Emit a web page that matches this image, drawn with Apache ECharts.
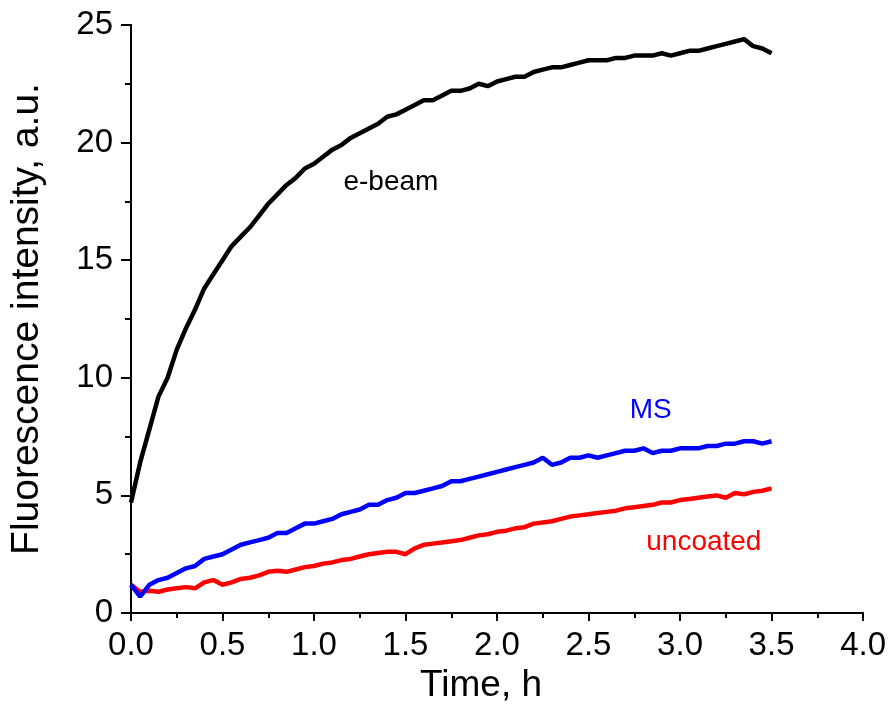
<!DOCTYPE html>
<html>
<head>
<meta charset="utf-8">
<script src="https://cdn.jsdelivr.net/npm/echarts@6/dist/echarts.min.js"></script>
<style>
  html, body { margin: 0; padding: 0; background: #fff; }
  #chart { width: 889px; height: 715px; }
</style>
</head>
<body>
<div id="chart"></div>
<script>
// time step of the sampled readings (h)
var step = 0.05;

// values, every 0.05 h from 0 to 3.5 h
var eBeam = [4.7, 6.4, 7.8, 9.2, 10.0, 11.2, 12.1, 12.9, 13.8, 14.4,
  15.0, 15.6, 16.0, 16.4, 16.9, 17.4, 17.8, 18.2, 18.5, 18.9,
  19.1, 19.4, 19.7, 19.9, 20.2, 20.4, 20.6, 20.8, 21.1, 21.2,
  21.4, 21.6, 21.8, 21.8, 22.0, 22.2, 22.2, 22.3, 22.5, 22.4,
  22.6, 22.7, 22.8, 22.8, 23.0, 23.1, 23.2, 23.2, 23.3, 23.4,
  23.5, 23.5, 23.5, 23.6, 23.6, 23.7, 23.7, 23.7, 23.8, 23.7,
  23.8, 23.9, 23.9, 24.0, 24.1, 24.2, 24.3, 24.4, 24.1, 24.0, 23.8];
var ms = [1.2, 0.7, 1.2, 1.4, 1.5, 1.7, 1.9, 2.0, 2.3, 2.4,
  2.5, 2.7, 2.9, 3.0, 3.1, 3.2, 3.4, 3.4, 3.6, 3.8,
  3.8, 3.9, 4.0, 4.2, 4.3, 4.4, 4.6, 4.6, 4.8, 4.9,
  5.1, 5.1, 5.2, 5.3, 5.4, 5.6, 5.6, 5.7, 5.8, 5.9,
  6.0, 6.1, 6.2, 6.3, 6.4, 6.6, 6.3, 6.4, 6.6, 6.6,
  6.7, 6.6, 6.7, 6.8, 6.9, 6.9, 7.0, 6.8, 6.9, 6.9,
  7.0, 7.0, 7.0, 7.1, 7.1, 7.2, 7.2, 7.3, 7.3, 7.2, 7.3];
var uncoated = [1.2, 0.9, 0.95, 0.9, 1.0, 1.05, 1.1, 1.05, 1.3, 1.4,
  1.2, 1.3, 1.45, 1.5, 1.6, 1.75, 1.8, 1.75, 1.85, 1.95,
  2.0, 2.1, 2.15, 2.25, 2.3, 2.4, 2.5, 2.55, 2.6, 2.6,
  2.5, 2.75, 2.9, 2.95, 3.0, 3.05, 3.1, 3.2, 3.3, 3.35,
  3.45, 3.5, 3.6, 3.65, 3.8, 3.85, 3.9, 4.0, 4.1, 4.15,
  4.2, 4.25, 4.3, 4.35, 4.45, 4.5, 4.55, 4.6, 4.7, 4.7,
  4.8, 4.85, 4.9, 4.95, 5.0, 4.9, 5.1, 5.05, 5.15, 5.2, 5.3];

// curve labels: [time, intensity]
var labelEBeam = [1.42, 18.3];
var labelMs = [2.84, 8.6];
var labelUncoated = [3.13, 3.0];

function pairs(vals) {
  return vals.map(function (v, i) { return [+(i * step).toFixed(2), v]; });
}

var myChart = echarts.init(document.getElementById('chart'));

var font = 'Liberation Sans, Arial, sans-serif';

function curve(name, vals, color, lab) {
  return {
    name: name,
    type: 'line',
    data: pairs(vals),
    showSymbol: false,
    symbol: 'none',
    lineStyle: { color: color, width: 4.5 },
    animation: false,
    markPoint: {
      symbol: 'circle',
      symbolSize: 0,
      label: {
        show: true,
        position: 'inside',
        formatter: name,
        color: color,
        fontSize: 28,
        fontFamily: font
      },
      data: [{ coord: lab }]
    }
  };
}

var option = {
  backgroundColor: '#fff',
  animation: false,
  grid: { left: 131, right: 25, top: 25, bottom: 102 },
  xAxis: [{
    type: 'value',
    min: 0, max: 4, interval: 0.5,
    name: 'Time, h',
    nameLocation: 'middle',
    nameGap: 47,
    nameTextStyle: { fontSize: 37, color: '#000', fontFamily: font, padding: [0, 32, 0, 0] },
    axisLine: { lineStyle: { color: '#000', width: 2 } },
    axisTick: { inside: false, length: 8, lineStyle: { color: '#000', width: 2 } },
    minorTick: { show: true, splitNumber: 2, length: 5, lineStyle: { color: '#000', width: 2 } },
    splitLine: { show: false },
    axisLabel: {
      fontSize: 33, color: '#000', fontFamily: font, margin: 16,
      formatter: function (v) { return v.toFixed(1); }
    }
  }, {
    type: 'value', position: 'top',
    min: 0, max: 4, interval: 0.5,
    axisLine: { lineStyle: { color: '#000', width: 2 } },
    axisTick: { show: false },
    axisLabel: { show: false },
    splitLine: { show: false }
  }],
  yAxis: [{
    type: 'value',
    min: 0, max: 25, interval: 5,
    name: 'Fluorescence intensity, a.u.',
    nameLocation: 'middle',
    nameGap: 84,
    nameTextStyle: { fontSize: 39, color: '#000', fontFamily: font },
    axisLine: { show: true, lineStyle: { color: '#000', width: 2 } },
    axisTick: { show: true, inside: false, length: 9, lineStyle: { color: '#000', width: 2 } },
    minorTick: { show: true, splitNumber: 2, length: 6, lineStyle: { color: '#000', width: 2 } },
    splitLine: { show: false },
    axisLabel: { fontSize: 33, color: '#000', fontFamily: font, margin: 18 }
  }, {
    type: 'value', position: 'right',
    min: 0, max: 25, interval: 5,
    axisLine: { show: true, lineStyle: { color: '#000', width: 2 } },
    axisTick: { show: true, inside: true, length: 10, lineStyle: { color: '#000', width: 2 } },
    axisLabel: { show: false },
    splitLine: { show: false }
  }],
  series: [
    curve('uncoated', uncoated, '#ff0000', labelUncoated),
    curve('MS', ms, '#0000ff', labelMs),
    curve('e-beam', eBeam, '#000000', labelEBeam)
  ]
};

myChart.setOption(option);
</script>
</body>
</html>
